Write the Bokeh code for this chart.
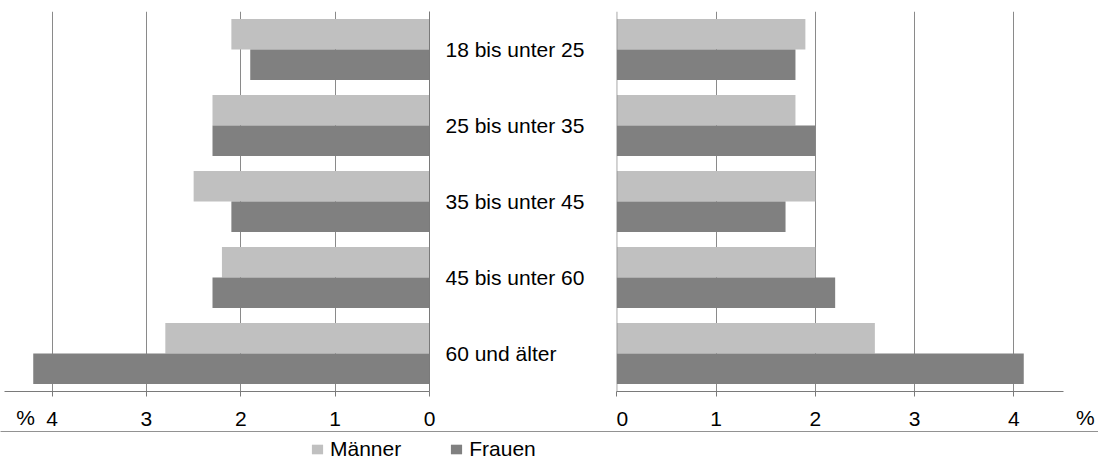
from bokeh.plotting import figure
from bokeh.models import (Range1d, FactorRange, ColumnDataSource, FixedTicker,
                          Legend, LegendItem, Span, LinearAxis)
from bokeh.transform import dodge
from bokeh.layouts import row, column
from bokeh.embed import file_html
from bokeh.resources import INLINE

categories = ["18 bis unter 25", "25 bis unter 35", "35 bis unter 45",
              "45 bis unter 60", "60 und älter"]
left_maenner = [2.1, 2.3, 2.5, 2.2, 2.8]
left_frauen = [1.9, 2.3, 2.1, 2.3, 4.2]
right_maenner = [1.9, 1.8, 2.0, 2.0, 2.6]
right_frauen = [1.8, 2.0, 1.7, 2.2, 4.1]
x_ticks = [0, 1, 2, 3, 4]
grid_ticks = [1, 2, 3, 4]
series_names = ["Männer", "Frauen"]
unit_label = "%"

FONT = "Liberation Sans"
FS = "21px"
M_COLOR = "#c0c0c0"
F_COLOR = "#808080"
GRID = "#8a8a8a"
AXIS = "#7a7a7a"
TXT = "#000000"

src = ColumnDataSource(dict(cat=categories, lm=left_maenner, lf=left_frauen,
                            rm=right_maenner, rf=right_frauen))
y_range = FactorRange(factors=list(reversed(categories)), range_padding=0)


def style(p):
    p.xgrid.ticker = FixedTicker(ticks=grid_ticks)
    p.xgrid.grid_line_color = GRID
    p.ygrid.grid_line_color = None
    p.outline_line_color = None
    p.background_fill_color = "white"
    p.border_fill_color = "white"


def main_axis(p):
    a = LinearAxis(ticker=FixedTicker(ticks=x_ticks), bounds=(0, 4.5))
    a.axis_line_color = AXIS
    a.major_tick_line_color = AXIS
    a.major_tick_out = 5
    a.major_tick_in = 0
    a.minor_tick_line_color = None
    a.major_label_text_font = FONT
    a.major_label_text_font_size = FS
    a.major_label_text_color = TXT
    a.major_label_standoff = 15
    p.add_layout(a, "below")


def unit_axis(p, unit_pos):
    # unit label, pulled up into the tick-label row
    b = LinearAxis(ticker=FixedTicker(ticks=[unit_pos]),
                   major_label_overrides={unit_pos: unit_label})
    b.axis_line_color = None
    b.major_tick_line_color = None
    b.major_tick_out = 0
    b.major_tick_in = 0
    b.minor_tick_line_color = None
    b.major_label_text_font = FONT
    b.major_label_text_font_size = FS
    b.major_label_text_color = TXT
    b.major_label_standoff = -23
    p.add_layout(b, "below")


# ---------------- left panel ----------------
left = figure(frame_width=429, frame_height=380,
              x_range=Range1d(4.547, 0), y_range=y_range,
              min_border_left=0, min_border_right=187, min_border_top=11,
              min_border_bottom=0, y_axis_location="right", x_axis_location=None,
              output_backend="svg", toolbar_location=None)
style(left)
main_axis(left)
unit_axis(left, 4.28)
left.yaxis.axis_line_color = AXIS
left.yaxis.major_tick_out = 0
left.yaxis.major_tick_in = 0
left.yaxis.major_label_standoff = 16
left.yaxis.major_label_text_font = FONT
left.yaxis.major_label_text_font_size = FS
left.yaxis.major_label_text_color = TXT

left.hbar(y=dodge("cat", 0.2, range=y_range), left=0, right="lm", height=0.4,
          source=src, fill_color=M_COLOR, line_color=None)
left.hbar(y=dodge("cat", -0.2, range=y_range), left=0, right="lf", height=0.4,
          source=src, fill_color=F_COLOR, line_color=None)

# ---------------- right panel ----------------
right = figure(frame_width=482, frame_height=380,
               x_range=Range1d(-0.003, 4.853), y_range=y_range,
               min_border_left=0, min_border_right=0, min_border_top=11,
               min_border_bottom=0, y_axis_location=None, x_axis_location=None,
               output_backend="svg", toolbar_location=None)
style(right)
main_axis(right)
unit_axis(right, 4.72)
right.hbar(y=dodge("cat", 0.2, range=y_range), left=0, right="rm", height=0.4,
           source=src, fill_color=M_COLOR, line_color=None)
right.hbar(y=dodge("cat", -0.2, range=y_range), left=0, right="rf", height=0.4,
           source=src, fill_color=F_COLOR, line_color=None)
right.add_layout(Span(location=0, dimension="height", line_color=AXIS, line_width=1))

# ---------------- legend strip ----------------
# key renderers use the real data, but the strip's y-range keeps them out of view
strip = figure(frame_width=1098, frame_height=27, x_range=Range1d(0, 1),
               y_range=Range1d(-2, -1), min_border=0, x_axis_location=None,
               y_axis_location=None, output_backend="svg", toolbar_location=None)
strip.grid.grid_line_color = None
strip.outline_line_color = None
m_key = strip.hbar(y="lm", left=0, right="lm", height=0.4, source=src,
                   fill_color=M_COLOR, line_color=None)
f_key = strip.hbar(y="lf", left=0, right="lf", height=0.4, source=src,
                   fill_color=F_COLOR, line_color=None)
legend = Legend(items=[LegendItem(label=series_names[0], renderers=[m_key]),
                       LegendItem(label=series_names[1], renderers=[f_key])],
                orientation="horizontal", location=(310, -3),
                glyph_width=14, glyph_height=12, label_standoff=6, spacing=48,
                label_text_font=FONT, label_text_font_size=FS, label_text_color=TXT,
                label_height=20, padding=0, margin=0, border_line_color=None,
                background_fill_alpha=0)
strip.add_layout(legend, "center")

p = column(row(left, right, spacing=0), strip, spacing=0)
open("out.html", "w").write(file_html(p, INLINE))
